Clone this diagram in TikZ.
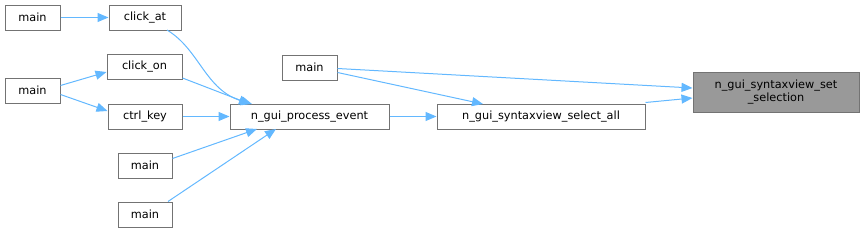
\documentclass[tikz,border=0pt]{standalone}
\usepackage{fontspec}
\setmainfont{DejaVu Sans}
\usetikzlibrary{arrows.meta}
\begin{document}
\begin{tikzpicture}[x=1pt,y=-1pt,
  fn/.style={draw=black!55,fill=white,line width=1pt,font=\fontsize{11.3}{13}\selectfont,inner sep=0pt,minimum height=25pt,anchor=center},
  cur/.style={fn,fill=black!40,minimum height=40pt,align=center},
  ed/.style={draw={rgb,255:red,99;green,184;blue,255},line width=1pt,-{Stealth[length=11pt,width=9pt,inset=0pt]}}]
\useasboundingbox (0,0) rectangle (865,233);
\node[fn,minimum width=55pt] (m1) at (32.5,17.5) {main};
\node[fn,minimum width=72pt] (ca) at (145,17.5) {click\_at};
\node[fn,minimum width=75pt] (co) at (144.5,67) {click\_on};
\node[fn,minimum width=55pt] (m2) at (32.5,90.5) {main};
\node[fn,minimum width=74pt] (ck) at (145,116.5) {ctrl\_key};
\node[fn,minimum width=54pt] (m3) at (145,165.5) {main};
\node[fn,minimum width=54pt] (m4) at (145,214.5) {main};
\node[fn,minimum width=159pt] (pe) at (309.5,116.5) {n\_gui\_process\_event};
\node[fn,minimum width=55pt] (m5) at (309.5,67.5) {main};
\node[fn,minimum width=208pt] (sa) at (541,116.5) {n\_gui\_syntaxview\_select\_all};
\node[cur,minimum width=166pt] (ss) at (776,92) {n\_gui\_syntaxview\_set\\\_selection};
\draw[ed] (m1) -- (ca);
\draw[ed] (167,30) .. controls (200,50) and (205,90) .. (252,104);
\draw[ed] (co.south east) ++(0,-2) -- (250,104);
\draw[ed] (m2.east) ++(0,-5) -- (co.west |- 0,72);
\draw[ed] (m2.east) ++(0,4) -- (ck.west |- 0,111);
\draw[ed] (ck) -- (pe);
\draw[ed] (m3.east) ++(0,-7) -- (257,129);
\draw[ed] (m4.north) ++(23,0) -- (276,129);
\draw[ed] (pe) -- (sa);
\draw[ed] (m5.east) ++(0,5) -- (483,104);
\draw[ed] (m5.east) ++(0,1) -- (ss.west |- 0,88);
\draw[ed] (sa.north east) ++(0,-1) -- (ss.west |- 0,98);
\end{tikzpicture}
\end{document}
